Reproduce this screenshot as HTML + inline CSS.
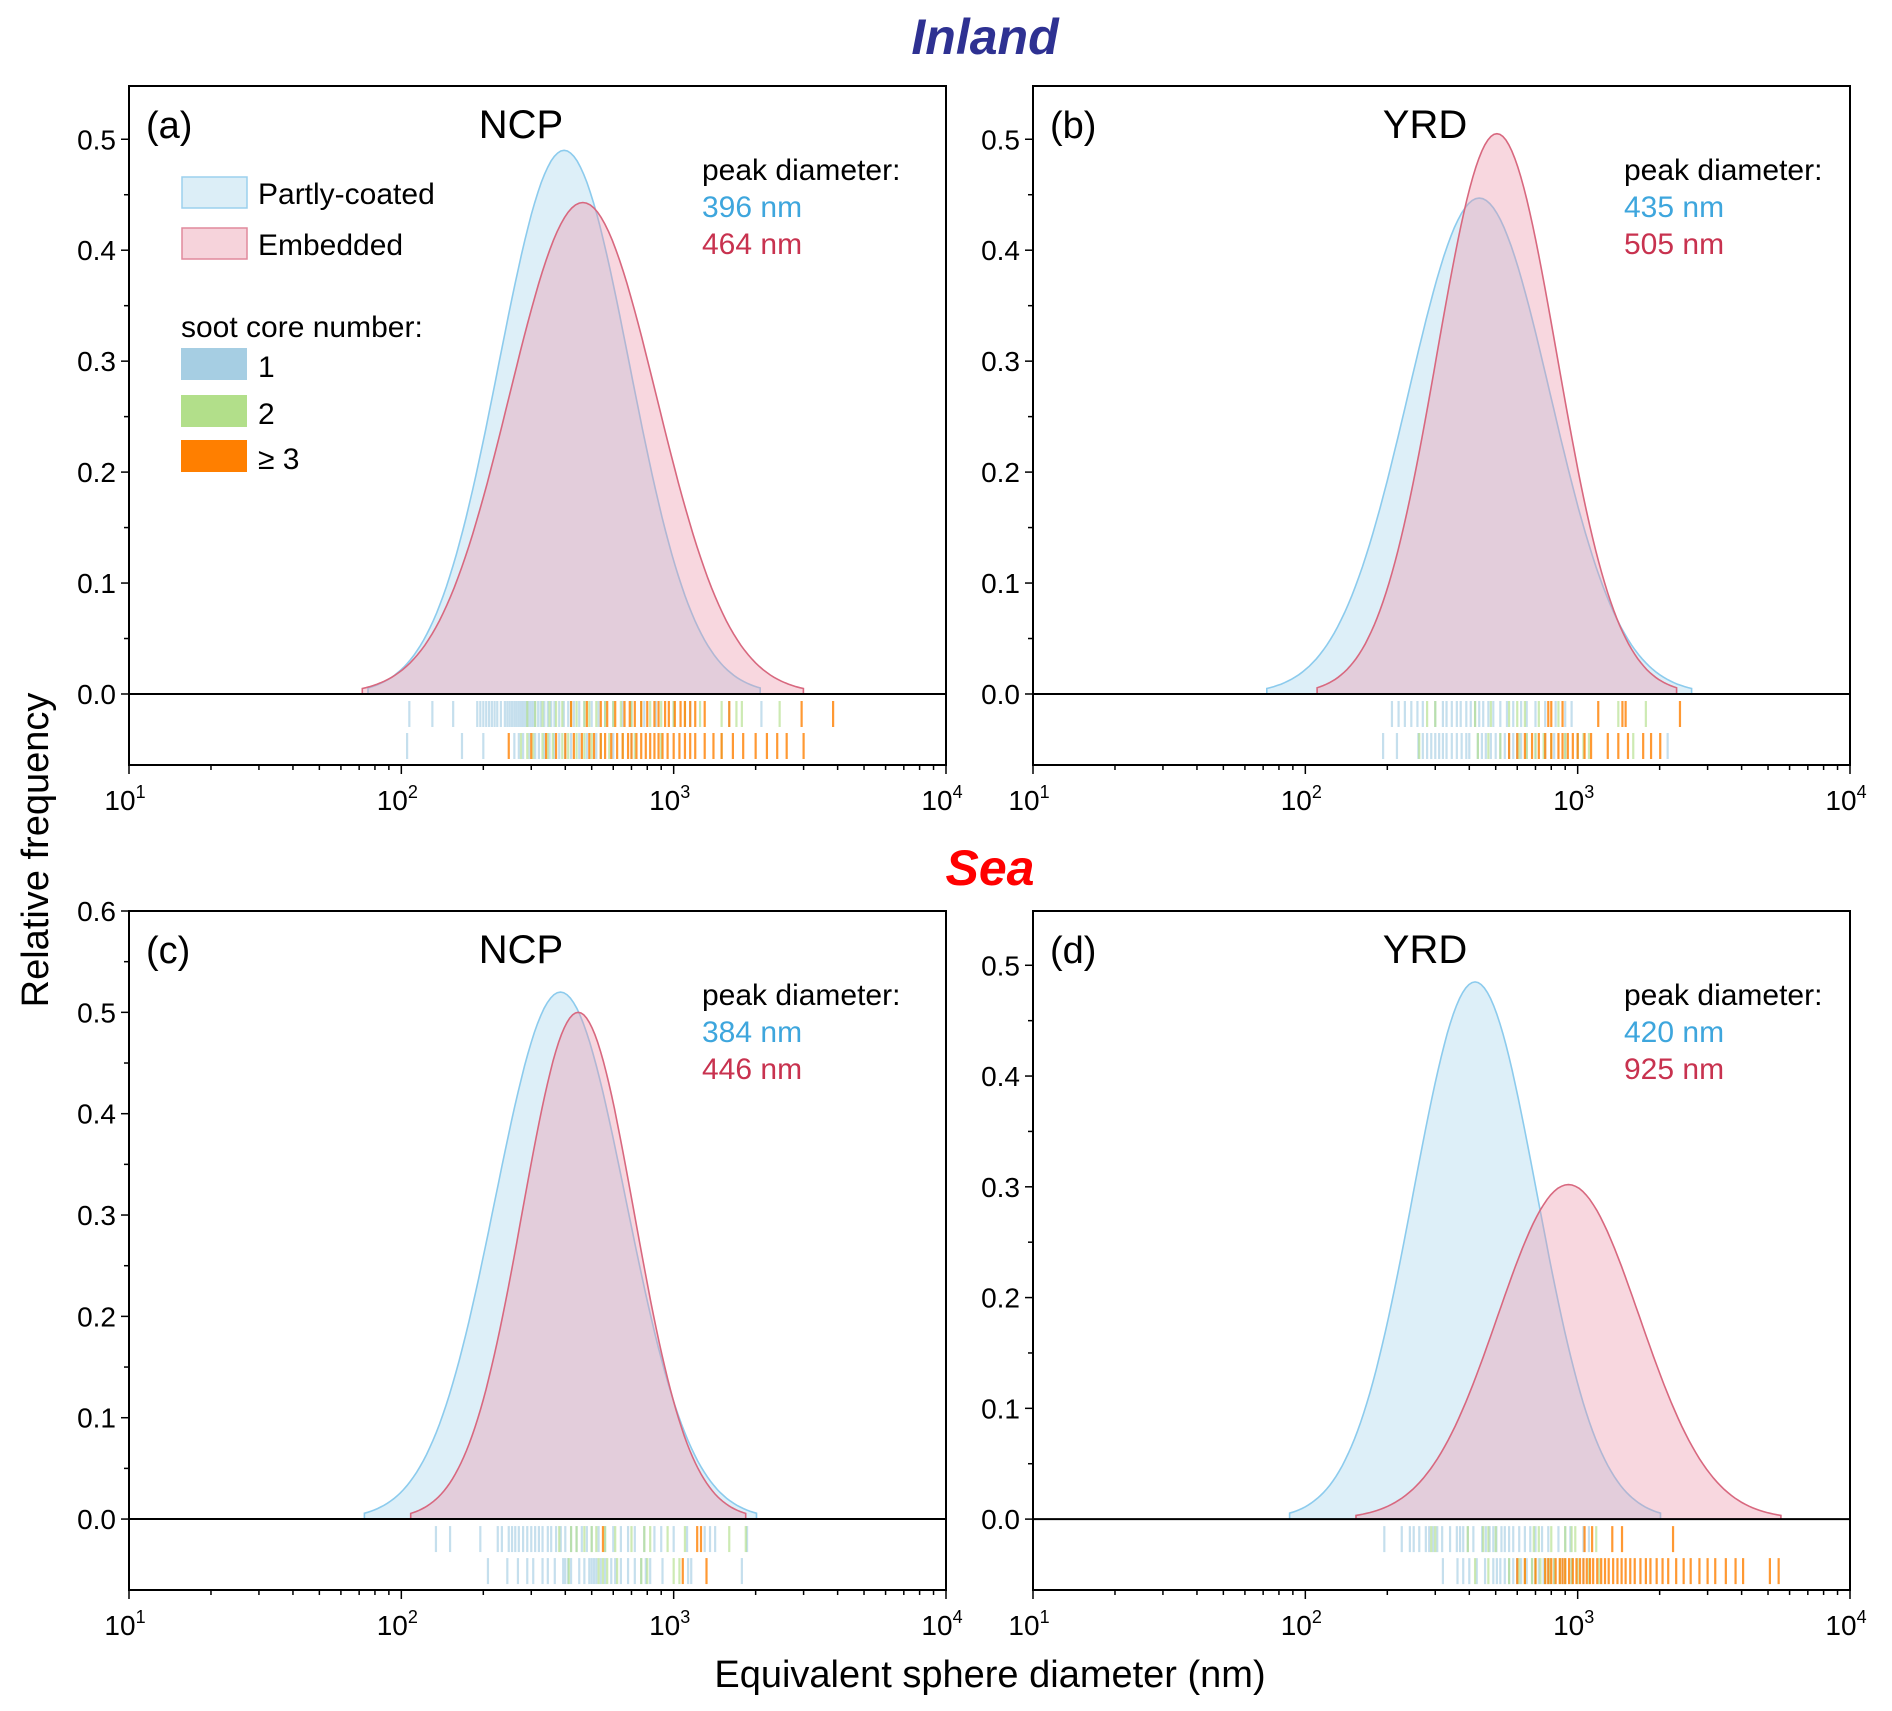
<!DOCTYPE html>
<html><head><meta charset="utf-8"><style>
body{margin:0;background:#fff}
svg{display:block;font-family:"Liberation Sans",Arial,sans-serif}
</style></head><body>
<svg id="chart" width="1892" height="1711" viewBox="0 0 1892 1711" xmlns="http://www.w3.org/2000/svg">
<text x="985" y="54" text-anchor="middle" font-size="50" font-weight="bold" font-style="italic" fill="#2e3192">Inland</text>
<text x="990" y="885" text-anchor="middle" font-size="50" font-weight="bold" font-style="italic" fill="#ff0000">Sea</text>
<text transform="translate(48,850) rotate(-90)" text-anchor="middle" font-size="38" fill="#000">Relative frequency</text>
<text x="990" y="1687" text-anchor="middle" font-size="38" fill="#000">Equivalent sphere diameter (nm)</text>
<g id="panels"></g>
</svg>
<script>
// ---- data ----
const panelIds = ['a','b','c','d'];
const regions = ['NCP','YRD','NCP','YRD'];
const yMax = [0.548, 0.548, 0.6, 0.549];
const yMin = [-0.064, -0.064, -0.07, -0.064];
const yTickMax = [0.5, 0.5, 0.6, 0.5];
// partly-coated (blue) distribution: peak diameter (nm), peak height, log10 sigma
const bluePeak = [396, 435, 384, 420];
const blueHeight = [0.49, 0.447, 0.52, 0.485];
const blueSigma = [0.24, 0.26, 0.24, 0.227];
// embedded (red) distribution
const redPeak = [464, 505, 446, 925];
const redHeight = [0.443, 0.505, 0.50, 0.302];
const redSigma = [0.27, 0.22, 0.205, 0.26];
const xTickExp = [1, 2, 3, 4];
// rug data: soot core number 1 / 2 / >=3, row 1 = partly-coated, row 2 = embedded
const rugA1c1=[107,130,155,190,195,200,205,210,215,220,225,232,240,245,250,255,260,265,270,275,280,285,290,295,300,305,310,318,325,335,345,355,365,380,395,410,430,450,470,500,530,560,600,650,700,780,860,1000,1150,1600,2100];
const rugA1c2=[290,310,330,350,370,390,420,440,470,490,520,560,600,640,700,760,820,900,1000,1100,1250,1500,1700,1780,2450];
const rugA1c3=[420,480,540,570,610,660,690,720,760,800,850,880,930,960,1010,1060,1100,1150,1200,1300,1600,2950,3850];
const rugA2c1=[105,167,200,260,270,280,295,310,320,335,350,365,380,400,420,450,480,520,600,700];
const rugA2c2=[275,290,305,330,345,360,390,410,440,470,500,540,580,650,720,900,1500];
const rugA2c3=[248,300,340,370,400,430,460,490,510,540,560,590,620,650,680,700,730,760,790,820,850,880,910,950,1000,1050,1100,1150,1200,1300,1400,1500,1650,1800,2000,2200,2400,2600,3000];
const rugB1c1=[208,220,232,245,258,270,300,320,330,345,360,372,390,405,420,435,450,470,490,520,550,580,620,650,700,760,830,900,950];
const rugB1c2=[280,300,420,480,560,600,640,720,850,1410,1780];
const rugB1c3=[780,800,880,1190,1460,1500,2375];
const rugB2c1=[193,217,260,270,280,290,300,310,320,330,345,360,375,390,400,430,445,460,480,500,520,540,560,580,600,620,650,700,760,820,900,1000,2140];
const rugB2c2=[262,430,470,520,610,650,700,750,800,900,1000,1050,1100,1600];
const rugB2c3=[560,600,640,680,720,760,800,850,880,920,960,1000,1060,1120,1290,1410,1530,1740,1860,2010];
const rugC1c1=[134,151,195,226,234,248,255,262,270,280,290,300,310,320,330,345,355,370,385,400,420,440,460,480,500,530,560,600,640,680,720,780,850,900,1000,1120,1300,1360,1420,1860];
const rugC1c2=[380,420,440,470,500,520,560,610,700,780,820,950,1100,1600,1840];
const rugC1c3=[550,1220,1260];
const rugC2c1=[208,245,268,290,305,330,345,366,393,400,410,420,450,470,490,500,510,520,540,560,590,610,640,680,720,760,790,820,910,1130,1160,1780];
const rugC2c2=[412,530,550,570,620,760,800,1000,1050];
const rugC2c3=[1080,1320];
const rugD1c1=[195,226,242,250,262,277,285,295,305,318,340,360,370,380,395,414,446,460,475,490,503,525,540,560,580,610,640,670,700,740,780,850,900,940,1050,1100];
const rugD1c2=[290,300,395,450,470,500,690,720,800,900,950,980,1170];
const rugD1c3=[1060,1130,1340,1455,2240];
const rugD2c1=[320,362,380,400,426,457,490,505,520,540,560,580,600,620,650,680,700,720,750,780,820,880,950,1050];
const rugD2c2=[420,470,560,610,640,680,700,730,760,790,820,860,900,950,1000,1100,1200];
const rugD2c3=[600,640,700,760,780,800,830,860,880,900,930,960,990,1020,1050,1080,1110,1140,1180,1220,1260,1300,1350,1400,1450,1500,1560,1620,1700,1780,1850,1950,2050,2150,2300,2450,2600,2800,3000,3200,3500,3800,4050,5080,5470];

const rugs = [
 [[rugA1c1,rugA1c2,rugA1c3],[rugA2c1,rugA2c2,rugA2c3]],
 [[rugB1c1,rugB1c2,rugB1c3],[rugB2c1,rugB2c2,rugB2c3]],
 [[rugC1c1,rugC1c2,rugC1c3],[rugC2c1,rugC2c2,rugC2c3]],
 [[rugD1c1,rugD1c2,rugD1c3],[rugD2c1,rugD2c2,rugD2c3]]
];
const coreColors = ['#a6cee3','#b2df8a','#ff7f00'];
const boxes = [[129,86,946,765],[1033,86,1850,765],[129,911,946,1590],[1033,911,1850,1590]];
const peakOffset = [573, 591, 573, 591];
const NS='http://www.w3.org/2000/svg';
function mk(tag, attrs, parent){const e=document.createElementNS(NS,tag);for(const k in attrs)e.setAttribute(k,attrs[k]);parent.appendChild(e);return e;}
const root=document.getElementById('panels');

panelIds.forEach((id,i)=>{
  const [L,T,R,B]=boxes[i];
  const g=mk('g',{},root);
  
  
  const xs=d=>L+(Math.log10(d)-1)/3*(R-L);
  const ys=v=>T+(yMax[i]-v)/(yMax[i]-yMin[i])*(B-T);
  function curve(peak,h,sig,fill,stroke,name){
    const mu=Math.log10(peak);let pts=[];
    for(let k=0;k<=120;k++){const lx=mu-3*sig+6*sig*k/120;const v=h*Math.exp(-0.5*Math.pow((lx-mu)/sig,2));pts.push([xs(Math.pow(10,lx)),ys(v)]);}
    const dpath='M'+pts[0][0].toFixed(1)+','+ys(0).toFixed(1)+' '+pts.map(p=>'L'+p[0].toFixed(1)+','+p[1].toFixed(1)).join(' ')+' L'+pts[pts.length-1][0].toFixed(1)+','+ys(0).toFixed(1)+'Z';
    const p=mk('path',{d:dpath,fill:fill,stroke:stroke,'stroke-width':1.6},g);
    
    
  }
  curve(bluePeak[i],blueHeight[i],blueSigma[i],'rgba(160,210,235,0.36)','#8ccbed','partly-coated-curve');
  curve(redPeak[i],redHeight[i],redSigma[i],'rgba(236,150,170,0.38)','#d8687f','embedded-curve');
  const y0=ys(0);
  rugs[i].forEach((row,r)=>{
    row.forEach((vals,c)=>{
      vals.forEach(v=>{
        const ln=mk('line',{x1:xs(v),x2:xs(v),y1:y0+7+r*32,y2:y0+33+r*32,stroke:coreColors[c],'stroke-width':2.2,'stroke-opacity':c==2?0.8:0.65},g);
        
        
      });
    });
  });
  mk('line',{x1:L,x2:R,y1:y0,y2:y0,stroke:'#000','stroke-width':2},g);
  const fr=mk('rect',{x:L,y:T,width:R-L,height:B-T,fill:'none',stroke:'#000','stroke-width':2},g);
  
  
  for(let k=0;k<=Math.round(yTickMax[i]*20);k++){
    const v=k*0.05,y=ys(v),major=k%2==0;
    mk('line',{x1:L-(major?8:5),x2:L,y1:y,y2:y,stroke:'#000','stroke-width':1.5},g);
    if(major){const t=mk('text',{x:L-13,y:y+10,'text-anchor':'end','font-size':28},g);t.textContent=v.toFixed(1);
      }
  }
  for(let e=1;e<=4;e++){
    for(let m=1;m<=9;m++){
      if(e==4&&m>1)break;
      const x=xs(m*Math.pow(10,e));
      mk('line',{x1:x,x2:x,y1:B,y2:B+(m==1?9:5),stroke:'#000','stroke-width':1.5},g);
    }
  }
  xTickExp.forEach(e=>{
    const x=xs(Math.pow(10,e));
    const t=mk('text',{x:x-4,y:B+45,'text-anchor':'middle','font-size':28},g);
    
    
    t.textContent='10';
    const s=mk('tspan',{dy:-12,'font-size':18},t);s.textContent=String(e);
  });
  const pl=mk('text',{x:L+17,y:T+52,'font-size':38},g);pl.textContent='('+id+')';
  
  const rg=mk('text',{x:L+392,y:T+52,'text-anchor':'middle','font-size':40},g);rg.textContent=regions[i];
  
  const px=L+peakOffset[i];
  const pk=mk('text',{x:px,y:T+94,'font-size':30},g);pk.textContent='peak diameter:';
  
  const pb=mk('text',{x:px,y:T+131,'font-size':30,fill:'#3ea6dd'},g);pb.textContent=bluePeak[i]+' nm';
  
  const pr=mk('text',{x:px,y:T+168,'font-size':30,fill:'#c8324f'},g);pr.textContent=redPeak[i]+' nm';
  
});

const lg=mk('g',{},root);


const legItems=[['Partly-coated','#dceef7','#9bd0ee',177],['Embedded','#f6d3db','#e0899c',228]];
legItems.forEach(it=>{
  mk('rect',{x:182,y:it[3],width:65,height:31,fill:it[1],stroke:it[2],'stroke-width':1.5},lg);
  const t=mk('text',{x:258,y:it[3]+27,'font-size':30},lg);t.textContent=it[0];
  
});
const st=mk('text',{x:181,y:337,'font-size':30},lg);st.textContent='soot core number:';

const coreLabels=['1','2','≥ 3'];
[348,395,440].forEach((y,k)=>{
  mk('rect',{x:181,y:y,width:66,height:32,fill:coreColors[k]},lg);
  const t=mk('text',{x:258,y:y+29,'font-size':30},lg);t.textContent=coreLabels[k];
  
});
</script>
</body></html>
